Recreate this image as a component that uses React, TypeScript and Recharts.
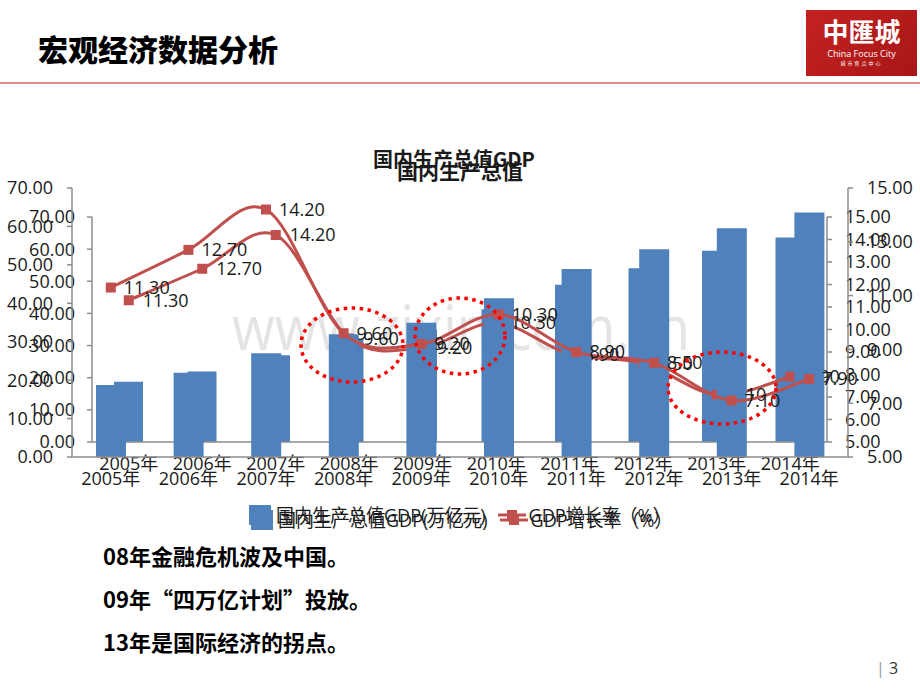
import React from "react";
import {
  Bar,
  ComposedChart,
  LabelList,
  Legend,
  Line,
  XAxis,
  YAxis,
} from "recharts";

const years = [
  "2005年",
  "2006年",
  "2007年",
  "2008年",
  "2009年",
  "2010年",
  "2011年",
  "2012年",
  "2013年",
  "2014年",
];

// 国内生产总值 (万亿元)
const gdp = [18.73, 21.94, 27.02, 31.95, 34.91, 41.3, 48.93, 54.04, 59.52, 63.65];

// GDP增长率 (%)
const growth = [11.3, 12.7, 14.2, 9.6, 9.2, 10.3, 8.9, 8.5, 7.1, 7.9];

const leftTicks = [0, 10, 20, 30, 40, 50, 60, 70];
const rightTicksOuter = [5, 7, 9, 11, 13, 15];
const rightTicksInner = [5, 6, 7, 8, 9, 10, 11, 12, 13, 14, 15];

const notes = [
  "08年金融危机波及中国。",
  "09年“四万亿计划”投放。",
  "13年是国际经济的拐点。",
];

const data = years.map((year, i) => ({
  year,
  gdp: gdp[i],
  growth: growth[i],
}));

const BLUE = "#4F81BD";
const RED = "#C0504D";
const AXIS = "#8c8c8c";
const TEXT = "#1a1a1a";
const FONT = '"Open Sans", "Noto Sans CJK SC", sans-serif';

const fmt = (v: any) => Number(v).toFixed(2);

// Excel-like smoothed line (bezier through every point)
function excelSmooth(context: any) {
  let pts: number[][] = [];
  return {
    areaStart() {},
    areaEnd() {},
    lineStart() {
      pts = [];
    },
    point(x: number, y: number) {
      pts.push([+x, +y]);
    },
    lineEnd() {
      if (!pts.length) return;
      context.moveTo(pts[0][0], pts[0][1]);
      for (let i = 0; i < pts.length - 1; i++) {
        const p0 = pts[i - 1] || pts[i];
        const p1 = pts[i];
        const p2 = pts[i + 1];
        const p3 = pts[i + 2] || p2;
        context.bezierCurveTo(
          p1[0] + (p2[0] - p0[0]) / 6,
          p1[1] + (p2[1] - p0[1]) / 6,
          p2[0] - (p3[0] - p1[0]) / 6,
          p2[1] - (p3[1] - p1[1]) / 6,
          p2[0],
          p2[1]
        );
      }
    },
  };
}

function SquareDot(props: any) {
  const { cx, cy, index } = props;
  return (
    <rect
      key={`dot-${index}`}
      x={cx - 5}
      y={cy - 5}
      width={10}
      height={10}
      fill={RED}
    />
  );
}

function LegendRow() {
  return (
    <div
      style={{
        display: "flex",
        alignItems: "center",
        fontSize: 18,
        color: TEXT,
        whiteSpace: "nowrap",
        fontFamily: FONT,
        lineHeight: "24px",
      }}
    >
      <span
        style={{
          display: "inline-block",
          width: 22,
          height: 20,
          background: BLUE,
          marginRight: 5,
        }}
      />
      <span>国内生产总值GDP(万亿元)</span>
      <svg width={28} height={20} style={{ marginLeft: 12, marginRight: 3 }}>
        <line x1={0} y1={10} x2={28} y2={10} stroke={RED} strokeWidth={3} />
        <rect x={9} y={5} width={10} height={10} fill={RED} />
      </svg>
      <span>GDP增长率（%）</span>
    </div>
  );
}

interface LayerProps {
  top: number;
  bottom: number;
  left: number;
  right: number;
  rightTicks: number[];
  barSize: number;
  leftMargin: number;
  rightMargin: number;
  labelOffset: number;
  legendX: number;
  legendY: number;
}

function ChartLayer({
  top,
  bottom,
  left,
  right,
  rightTicks,
  barSize,
  leftMargin,
  rightMargin,
  labelOffset,
  legendX,
  legendY,
}: LayerProps) {
  return (
    <div style={{ position: "absolute", left: 0, top: 0 }}>
      <ComposedChart
        width={920}
        height={690}
        data={data}
        margin={{ top, right: 0, left: 0, bottom: 690 - bottom - 40 }}
      >
        <XAxis
          dataKey="year"
          height={40}
          interval={0}
          tickSize={0}
          tickMargin={15}
          tickLine={false}
          axisLine={{ stroke: AXIS, strokeWidth: 1.5 }}
          tick={{ fontSize: 18, fill: TEXT }}
        />
        <YAxis
          yAxisId="left"
          width={left}
          domain={[0, 70]}
          ticks={leftTicks}
          interval={0}
          tickFormatter={fmt}
          tickSize={5}
          tickMargin={leftMargin}
          axisLine={{ stroke: AXIS, strokeWidth: 1.5 }}
          tickLine={{ stroke: AXIS, strokeWidth: 1.5 }}
          tick={{ fontSize: 18, fill: TEXT }}
        />
        <YAxis
          yAxisId="right"
          orientation="right"
          width={920 - right}
          domain={[5, 15]}
          ticks={rightTicks}
          interval={0}
          tickFormatter={fmt}
          tickSize={5}
          tickMargin={rightMargin}
          axisLine={{ stroke: AXIS, strokeWidth: 1.5 }}
          tickLine={{ stroke: AXIS, strokeWidth: 1.5 }}
          tick={{ fontSize: 18, fill: TEXT }}
        />
        <Bar
          yAxisId="left"
          dataKey="gdp"
          fill={BLUE}
          barSize={barSize}
          isAnimationActive={false}
        />
        <Line
          yAxisId="right"
          dataKey="growth"
          type={excelSmooth as any}
          stroke={RED}
          strokeWidth={3}
          dot={SquareDot}
          activeDot={false}
          isAnimationActive={false}
        >
          <LabelList
            dataKey="growth"
            position="right"
            offset={labelOffset}
            formatter={fmt}
            style={{ fontSize: 18, fill: TEXT }}
          />
        </Line>
        <Legend
          layout="horizontal"
          verticalAlign="middle"
          align="center"
          wrapperStyle={{ left: legendX, top: legendY, width: "auto" }}
          content={() => <LegendRow />}
        />
      </ComposedChart>
    </div>
  );
}

export default function App() {
  return (
    <div
      style={{
        position: "absolute",
        left: 0,
        top: 0,
        width: 920,
        height: 690,
        background: "#fff",
        overflow: "hidden",
        fontFamily: FONT,
        color: TEXT,
      }}
    >
      {/* Header */}
      <div
        style={{
          position: "absolute",
          left: 38,
          top: 26,
          fontSize: 30,
          fontWeight: 900,
          fontFamily: '"Noto Sans CJK SC", sans-serif',
          color: "#000",
        }}
      >
        宏观经济数据分析
      </div>
      <div
        style={{
          position: "absolute",
          left: 0,
          top: 82,
          width: 920,
          height: 2,
          background: "#d98c8c",
        }}
      />
      <div
        style={{
          position: "absolute",
          left: 806,
          top: 10,
          width: 111,
          height: 66,
          background: "linear-gradient(135deg, #c42222, #a81616)",
          color: "#fff",
          textAlign: "center",
        }}
      >
        <div
          style={{
            fontSize: 26,
            lineHeight: "34px",
            marginTop: 4,
            fontFamily: '"Noto Sans CJK TC", serif',
            fontWeight: 700,
          }}
        >
          中匯城
        </div>
        <div style={{ fontSize: 9, lineHeight: "11px" }}>China Focus City</div>
        <div style={{ fontSize: 5, lineHeight: "8px", letterSpacing: 2 }}>
          城市焦点中心
        </div>
      </div>

      {/* Watermark */}
      <svg
        width={920}
        height={690}
        style={{ position: "absolute", left: 0, top: 0 }}
      >
        <text
          x={232}
          y={350}
          fontSize={62}
          fill="#e4e4e4"
          textLength={458}
          lengthAdjust="spacingAndGlyphs"
          fontFamily={FONT}
        >
          www.zixin.com.cn
        </text>
      </svg>

      {/* Chart titles */}
      <div
        style={{
          position: "absolute",
          left: 397,
          top: 156,
          fontSize: 21,
          fontWeight: 700,
          fontFamily: '"Noto Sans CJK SC", sans-serif',
          whiteSpace: "nowrap",
          lineHeight: "28px",
        }}
      >
        国内生产总值
      </div>
      <div
        style={{
          position: "absolute",
          left: 373,
          top: 145,
          fontSize: 20,
          fontWeight: 700,
          fontFamily: '"Noto Sans CJK SC", sans-serif',
          whiteSpace: "nowrap",
          lineHeight: "28px",
        }}
      >
        国内生产总值GDP
      </div>

      <ChartLayer
        top={217}
        bottom={442}
        left={92}
        right={827}
        rightTicks={rightTicksInner}
        barSize={29}
        leftMargin={12}
        rightMargin={13}
        labelOffset={14}
        legendX={249}
        legendY={503}
      />
      <ChartLayer
        top={188}
        bottom={457}
        left={72}
        right={848}
        rightTicks={rightTicksOuter}
        barSize={30}
        leftMargin={14}
        rightMargin={14}
        labelOffset={13}
        legendX={251}
        legendY={508}
      />

      {/* Dotted highlights */}
      <svg
        width={920}
        height={690}
        style={{ position: "absolute", left: 0, top: 0, pointerEvents: "none" }}
      >
        {[
          [352, 345, 51, 37],
          [460, 336, 45, 38],
          [722, 388, 54, 36],
        ].map(([cx, cy, rx, ry], i) => (
          <ellipse
            key={i}
            cx={cx}
            cy={cy}
            rx={rx}
            ry={ry}
            fill="none"
            stroke="#ff0000"
            strokeWidth={3.5}
            strokeDasharray="3.5 4.5"
          />
        ))}
      </svg>

      {/* Notes */}
      {notes.map((t, i) => (
        <div
          key={t}
          style={{
            position: "absolute",
            left: 103,
            top: 540 + i * 43,
            fontSize: 22,
            fontWeight: 700,
            fontFamily: '"Noto Sans CJK SC", sans-serif',
            color: "#000",
            whiteSpace: "nowrap",
            lineHeight: "30px",
          }}
        >
          {t}
        </div>
      ))}

      <div
        style={{
          position: "absolute",
          left: 876,
          top: 657,
          fontSize: 16,
          color: "#333",
          whiteSpace: "nowrap",
        }}
      >
        <span style={{ color: "#999" }}>|</span> 3
      </div>
    </div>
  );
}
